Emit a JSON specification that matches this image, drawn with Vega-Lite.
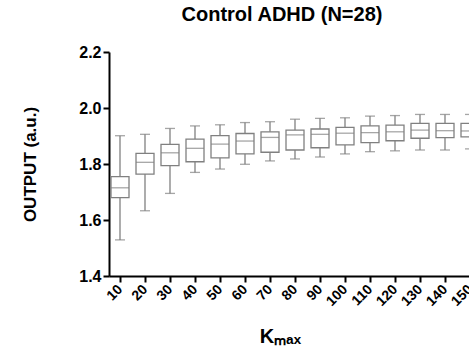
{
  "$schema": "https://vega.github.io/schema/vega-lite/v6.json",
  "width": 372,
  "height": 224,
  "padding": {"left": 20, "top": 5, "right": 0, "bottom": 0},
  "background": "white",
  "config": {
    "view": {"stroke": null},
    "font": "Liberation Sans"
  },
  "title": {
    "text": "Control ADHD (N=28)",
    "fontSize": 20,
    "fontWeight": "bold",
    "font": "Liberation Sans",
    "color": "black",
    "anchor": "middle",
    "dx": -13,
    "offset": 19
  },
  "data": {
    "values": [
      {"k": "10", "min": 1.529, "q1": 1.680, "median": 1.715, "q3": 1.755, "max": 1.901},
      {"k": "20", "min": 1.633, "q1": 1.764, "median": 1.806, "q3": 1.838, "max": 1.906},
      {"k": "30", "min": 1.695, "q1": 1.794, "median": 1.840, "q3": 1.870, "max": 1.927},
      {"k": "40", "min": 1.770, "q1": 1.808, "median": 1.856, "q3": 1.889, "max": 1.936},
      {"k": "50", "min": 1.782, "q1": 1.822, "median": 1.871, "q3": 1.901, "max": 1.940},
      {"k": "60", "min": 1.799, "q1": 1.836, "median": 1.882, "q3": 1.909, "max": 1.948},
      {"k": "70", "min": 1.811, "q1": 1.842, "median": 1.895, "q3": 1.915, "max": 1.951},
      {"k": "80", "min": 1.818, "q1": 1.850, "median": 1.904, "q3": 1.921, "max": 1.960},
      {"k": "90", "min": 1.825, "q1": 1.858, "median": 1.906, "q3": 1.925, "max": 1.963},
      {"k": "100", "min": 1.836, "q1": 1.868, "median": 1.910, "q3": 1.931, "max": 1.965},
      {"k": "110", "min": 1.844, "q1": 1.876, "median": 1.912, "q3": 1.936, "max": 1.971},
      {"k": "120", "min": 1.847, "q1": 1.883, "median": 1.915, "q3": 1.939, "max": 1.973},
      {"k": "130", "min": 1.850, "q1": 1.892, "median": 1.921, "q3": 1.945, "max": 1.977},
      {"k": "140", "min": 1.850, "q1": 1.894, "median": 1.919, "q3": 1.945, "max": 1.977},
      {"k": "150", "min": 1.854, "q1": 1.897, "median": 1.918, "q3": 1.945, "max": 1.977}
    ]
  },
  "encoding": {
    "x": {
      "field": "k",
      "type": "ordinal",
      "sort": null,
      "scale": {"type": "point", "padding": 0.44},
      "axis": {
        "title": "Kₘₐₓ",
        "titleFontSize": 20,
        "titleFontWeight": "bold",
        "titleColor": "black",
        "titleX": 171,
        "titleY": 50,
        "labelAngle": -45,
        "labelAlign": "right",
        "labelBaseline": "middle",
        "labelFontSize": 14,
        "labelFontWeight": "bold",
        "labelColor": "black",
        "labelPadding": 5,
        "tickSize": 6,
        "tickWidth": 2,
        "tickColor": "black",
        "domainWidth": 2,
        "domainColor": "black",
        "grid": false
      }
    }
  },
  "layer": [
    {
      "mark": {"type": "rule", "color": "#808080", "strokeWidth": 1.3},
      "encoding": {
        "y": {
          "field": "min",
          "type": "quantitative",
          "scale": {"domain": [1.4, 2.2], "nice": false, "zero": false},
          "axis": {
            "title": "OUTPUT (a.u.)",
            "titleFontSize": 17,
            "titleFontWeight": "bold",
            "titleColor": "black",
            "titleX": -70,
            "values": [1.4, 1.6, 1.8, 2.0, 2.2],
            "format": ".1f",
            "labelFontSize": 16,
            "labelFontWeight": "bold",
            "labelColor": "black",
            "labelPadding": 2,
            "tickSize": 6,
            "tickWidth": 2,
            "tickColor": "black",
            "domainWidth": 2,
            "domainColor": "black",
            "grid": false
          }
        },
        "y2": {"field": "max"}
      }
    },
    {
      "mark": {"type": "bar", "fill": "white", "stroke": "#808080", "strokeWidth": 1.3, "size": 18},
      "encoding": {
        "y": {"field": "q1", "type": "quantitative"},
        "y2": {"field": "q3"}
      }
    },
    {
      "mark": {"type": "tick", "color": "#808080", "size": 18, "thickness": 1.3},
      "encoding": {
        "y": {"field": "median", "type": "quantitative"}
      }
    },
    {
      "mark": {"type": "tick", "color": "#808080", "size": 10, "thickness": 1.3},
      "encoding": {
        "y": {"field": "min", "type": "quantitative"}
      }
    },
    {
      "mark": {"type": "tick", "color": "#808080", "size": 10, "thickness": 1.3},
      "encoding": {
        "y": {"field": "max", "type": "quantitative"}
      }
    }
  ]
}
